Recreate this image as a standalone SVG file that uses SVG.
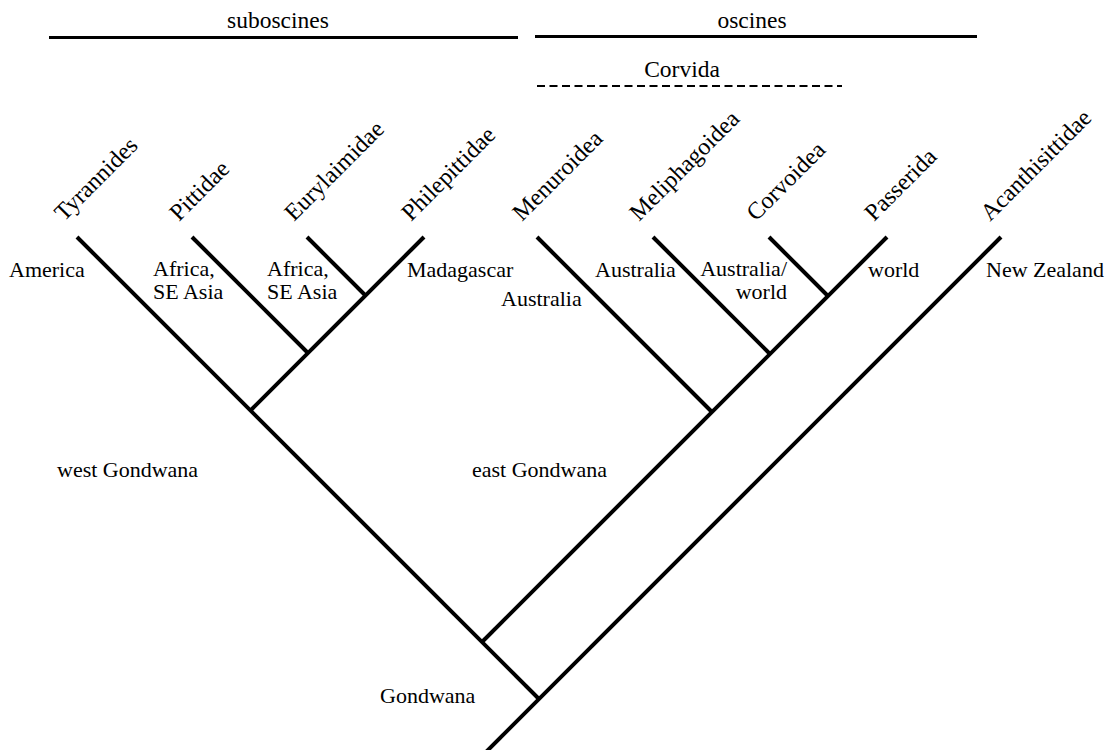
<svg xmlns="http://www.w3.org/2000/svg" width="1115" height="750" viewBox="0 0 1115 750">
<style>
text{font-family:"Liberation Serif","Times New Roman",serif;font-size:22px;fill:#000}
.top{font-size:23.5px}
.tx{font-size:24px}
.br{stroke:#000;stroke-width:4;fill:none;stroke-linecap:butt}
.bar{stroke:#000;stroke-width:3;fill:none}
.dash{stroke:#000;stroke-width:2;fill:none;stroke-dasharray:8,4.5}
</style>
<rect width="1115" height="750" fill="#fff"/>
<g id="groups">
<line class="bar" x1="49" y1="37.5" x2="518" y2="37.5"/>
<text class="top" x="278" y="28" text-anchor="middle">suboscines</text>
<line class="bar" x1="535" y1="36.5" x2="977" y2="36.5"/>
<text class="top" x="752" y="28" text-anchor="middle">oscines</text>
<line class="dash" x1="537" y1="86" x2="842" y2="86"/>
<text class="top" x="682" y="77" text-anchor="middle">Corvida</text>
</g>
<g id="connectors">
<line class="br" x1="77" y1="237" x2="539" y2="699"/>
<line class="br" x1="1001" y1="237" x2="486" y2="752"/>
<line class="br" x1="887" y1="237" x2="482" y2="642"/>
<line class="br" x1="537" y1="237" x2="712" y2="412"/>
<line class="br" x1="653" y1="237" x2="770" y2="354"/>
<line class="br" x1="769" y1="237" x2="828" y2="296"/>
<line class="br" x1="424" y1="237" x2="250.5" y2="410.5"/>
<line class="br" x1="192" y1="237" x2="308" y2="353"/>
<line class="br" x1="307" y1="237" x2="365.5" y2="295.5"/>
</g>
<g id="taxa">
<text id="Tyrannides" class="tx" transform="translate(64,222) rotate(-45)">Tyrannides</text>
<text id="Pittidae" class="tx" transform="translate(179,222) rotate(-45)">Pittidae</text>
<text id="Eurylaimidae" class="tx" transform="translate(294,222) rotate(-45)">Eurylaimidae</text>
<text id="Philepittidae" class="tx" transform="translate(411,222) rotate(-45)">Philepittidae</text>
<text id="Menuroidea" class="tx" transform="translate(522,222) rotate(-45)">Menuroidea</text>
<text id="Meliphagoidea" class="tx" transform="translate(639,222) rotate(-45)">Meliphagoidea</text>
<text id="Corvoidea" class="tx" transform="translate(756,222) rotate(-45)">Corvoidea</text>
<text id="Passerida" class="tx" transform="translate(874,222) rotate(-45)">Passerida</text>
<text id="Acanthisittidae" class="tx" transform="translate(990,222) rotate(-45)">Acanthisittidae</text>
</g>
<g id="regions">
<text x="9" y="277">America</text>
<text x="153" y="276">Africa,</text>
<text x="153" y="299">SE Asia</text>
<text x="267" y="276">Africa,</text>
<text x="267" y="299">SE Asia</text>
<text x="407" y="277">Madagascar</text>
<text x="501" y="306">Australia</text>
<text x="595" y="277">Australia</text>
<text x="787" y="276" text-anchor="end">Australia/</text>
<text x="787" y="299" text-anchor="end">world</text>
<text x="868" y="277">world</text>
<text x="986" y="277">New Zealand</text>
<text x="57" y="477">west Gondwana</text>
<text x="472" y="477">east Gondwana</text>
<text x="380" y="703">Gondwana</text>
</g>
</svg>
